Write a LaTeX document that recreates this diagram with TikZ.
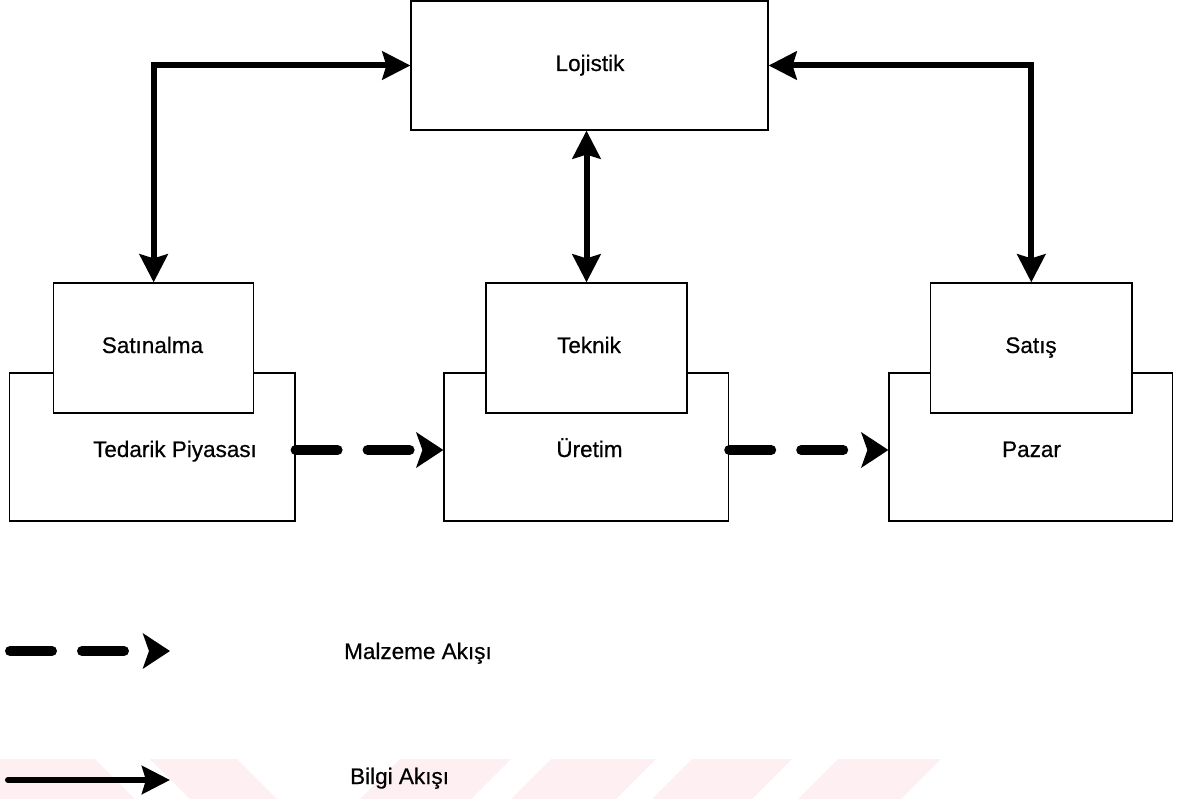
\documentclass[tikz,border=0pt]{standalone}
\usepackage{fontspec}
\setmainfont{Liberation Sans}
\newfontfamily\labelfont[FakeBold=0.5]{Liberation Sans}
\usetikzlibrary{arrows.meta}
\definecolor{wmpink}{RGB}{253,239,242}
\begin{document}
\begin{tikzpicture}[x=1pt,y=-1pt,
  box/.style={draw=black, line width=1.2pt, fill=white, inner sep=0pt},
  lbl/.style={anchor=base, inner sep=0pt, font=\labelfont\fontsize{22.5}{26}\selectfont},
  infoboth/.style={line width=6pt, {Stealth[length=28pt,width=28pt,inset=4pt]}-{Stealth[length=28pt,width=28pt,inset=4pt]}},
  infoone/.style={line width=6pt, line cap=round, -{Stealth[length=28pt,width=28pt,inset=4pt]}},
  matflow/.style={line width=10pt, line cap=round, dash pattern=on 42pt off 30pt, -{Stealth[length=27pt,width=35pt,inset=6pt]}}
]
\useasboundingbox (0,0) rectangle (1185,799);

% faint background band at the foot of the page
\begin{scope}[fill=wmpink]
  \fill (0,759) -- (95,759) -- (135,799) -- (0,799) -- cycle;
  \fill (150,759) -- (237,759) -- (277,799) -- (190,799) -- cycle;
  \fill (400,759) -- (511,759) -- (471,799) -- (360,799) -- cycle;
  \fill (551,759) -- (656,759) -- (616,799) -- (511,799) -- cycle;
  \fill (692,759) -- (792,759) -- (752,799) -- (652,799) -- cycle;
  \fill (838,759) -- (941,759) -- (901,799) -- (798,799) -- cycle;
\end{scope}

% top box
\node[box, minimum width=357pt, minimum height=129pt] (loj) at (589.5,65.5) {};
\node[lbl] (lojt) at (590,71) {Lojistik};

% outer boxes
\node[box, minimum width=285.4pt, minimum height=148pt] (ted) at (152.3,447) {};
\node[box, minimum width=284.6pt, minimum height=148pt] (ure) at (586.3,447) {};
\node[box, minimum width=283.6pt, minimum height=148pt] (paz) at (1030.8,447) {};

% inner boxes, drawn over the outer ones
\node[box, minimum width=200.1pt, minimum height=130pt] (sat) at (153.65,348) {};
\node[box, minimum width=201pt, minimum height=130pt] (tek) at (586.5,348) {};
\node[box, minimum width=201.4pt, minimum height=130pt] (sts) at (1031.3,348) {};

% labels
\node[lbl] (satt) at (152.5,353) {Satınalma};
\node[lbl] (tekt) at (589,353) {Teknik};
\node[lbl] (stst) at (1031,353) {Satış};
\node[lbl] (tedt) at (175,457) {Tedarik Piyasası};
\node[lbl] (uret) at (589.5,457) {Üretim};
\node[lbl] (pazt) at (1031.5,457) {Pazar};

% information flow
\draw[infoboth] (sat.north) |- (loj.west);
\draw[infoboth] (loj.south -| tek.north) -- (tek.north);
\draw[infoboth] (loj.east) -| (sts.north);

% material flow
\draw[matflow] ([yshift=-3pt]ted.east) -- ([yshift=-3pt]ure.west);
\draw[matflow] ([yshift=-3pt]ure.east) -- ([yshift=-3pt]paz.west);

% legend
\coordinate (ma) at (10,651);
\coordinate (mb) at (170,651);
\draw[matflow] (ma) -- (mb);
\node[lbl, anchor=base west] (mt) at (344,659) {Malzeme Akışı};

\coordinate (ba) at (8,780);
\coordinate (bb) at (170,780);
\draw[infoone] (ba) -- (bb);
\node[lbl, anchor=base west] (bt) at (350,784) {Bilgi Akışı};
\end{tikzpicture}
\end{document}
